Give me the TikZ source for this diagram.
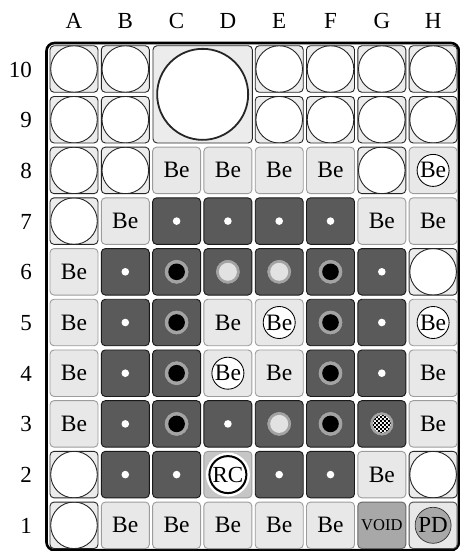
\documentclass[tikz,border=0pt]{standalone}
\usepackage{fontspec}
\setmainfont{Liberation Serif}
\usetikzlibrary{patterns}
\pgfdeclarepatternformonly{finechecker}{\pgfpointorigin}{\pgfqpoint{3.8pt}{3.8pt}}{\pgfqpoint{3.8pt}{3.8pt}}{%
  \pgfpathrectangle{\pgfpointorigin}{\pgfqpoint{1.95pt}{1.95pt}}%
  \pgfpathrectangle{\pgfqpoint{1.9pt}{1.9pt}}{\pgfqpoint{1.95pt}{1.95pt}}%
  \pgfusepath{fill}}
\definecolor{darkc}{HTML}{5A5A5A}
\definecolor{lightc}{HTML}{E8E8E8}
\definecolor{emptyc}{HTML}{ECECEC}
\definecolor{ringc}{HTML}{A3A3A3}
\definecolor{innerc}{HTML}{E2E2E2}
\definecolor{rcc}{HTML}{C6C6C6}
\definecolor{voidc}{HTML}{A8A8A8}
\definecolor{bord}{HTML}{9C9C9C}
\tikzset{
  cell/.style={rounded corners=4pt, minimum width=48pt, minimum height=46.5pt, inner sep=0pt, line width=0.9pt, font=\fontsize{23.5}{26}\selectfont},
  kE/.style={cell, draw=black!85, fill=emptyc, node contents={},
    path picture={\draw[fill=white, line width=0.9pt] (path picture bounding box.center) circle (23.3pt);}},
  kX/.style={node contents={}},
  kB/.style={cell, draw=bord, fill=lightc, node contents={Be}},
  kC/.style={cell, draw=bord, fill=lightc, node contents={Be},
    path picture={\draw[fill=white, draw=black, line width=0.85pt] (path picture bounding box.center) circle (16pt);}},
  darkcell/.style={cell, draw=black!90, fill=darkc, node contents={}},
  kD/.style={darkcell,
    path picture={\fill[white] (path picture bounding box.center) circle (3.8pt);}},
  kK/.style={darkcell,
    path picture={\draw[fill=ringc, draw=black!70, line width=0.4pt] (path picture bounding box.center) circle (12.3pt);
                  \fill[black] (path picture bounding box.center) circle (8.3pt);}},
  kL/.style={darkcell,
    path picture={\draw[fill=ringc, draw=black!70, line width=0.4pt] (path picture bounding box.center) circle (12.3pt);
                  \fill[innerc] (path picture bounding box.center) circle (9pt);}},
  kG/.style={darkcell,
    path picture={\draw[fill=ringc, draw=black!70, line width=0.4pt] (path picture bounding box.center) circle (12pt);
                  \fill[white] (path picture bounding box.center) circle (9pt);
                  \fill[pattern=finechecker, pattern color=black] (path picture bounding box.center) circle (9pt);}},
  kR/.style={cell, draw=bord, fill=rcc, node contents={RC}, font=\fontsize{23}{25}\selectfont,
    path picture={\fill[white] (path picture bounding box.center) circle (22pt);
                  \draw[black, line width=2pt] (path picture bounding box.center) circle (18.5pt);}},
  kV/.style={cell, draw=black!60, fill=voidc, node contents={VOID}, font=\fontsize{16.5}{18}\selectfont},
  kP/.style={cell, draw=black!70, fill=lightc, node contents={PD}, font=\fontsize{23}{25}\selectfont,
    path picture={\draw[fill=voidc, draw=black!80, line width=0.7pt] (path picture bounding box.center) circle (18pt);}},
  collab/.style={font=\fontsize{23}{25}\selectfont, inner sep=0pt},
  rowlab/.style={font=\fontsize{23}{25}\selectfont, inner sep=0pt, anchor=east},
}
\begin{document}
\begin{tikzpicture}[x=1pt, y=-1pt]
\useasboundingbox (0,0) rectangle (460,551);
\fill[white] (0,0) rectangle (460,551);
% outer frame
\draw[line width=2.6pt, rounded corners=8pt] (46.5,43) rectangle (458.9,550.2);
% column labels
\foreach \l [count=\c] in {A,B,C,D,E,F,G,H} {
  \node[collab] (col\l) at ({74+51.3*(\c-1)}, 21) {\l};
}
% row labels
\foreach \r in {10,...,1} {
  \node[rowlab] (row\r) at (32, {69.5+50.7*(10-\r)}) {\r};
}
% cells
\foreach \r/\lst in {
  10/{E,E,X,X,E,E,E,E},
  9/{E,E,X,X,E,E,E,E},
  8/{E,E,B,B,B,B,E,C},
  7/{E,B,D,D,D,D,B,B},
  6/{B,D,K,L,L,K,D,E},
  5/{B,D,K,B,C,K,D,C},
  4/{B,D,K,C,B,K,D,B},
  3/{B,D,K,D,L,K,G,B},
  2/{E,D,D,R,D,D,B,E},
  1/{E,B,B,B,B,B,V,P}} {
  \foreach \t [count=\c] in \lst {
    \node (cell\c-\r) at ({74+51.3*(\c-1)}, {69+50.7*(10-\r)}) [k\t];
  }
}
% large merged well C-D, 9-10
\node[cell, draw=black!85, fill=emptyc, minimum width=99.3pt, minimum height=97.2pt,
  path picture={\draw[fill=white, line width=1.8pt] (path picture bounding box.center) circle (45.5pt);}]
  (bigwell) at (202.65, 94.35) {};
\end{tikzpicture}
\end{document}
